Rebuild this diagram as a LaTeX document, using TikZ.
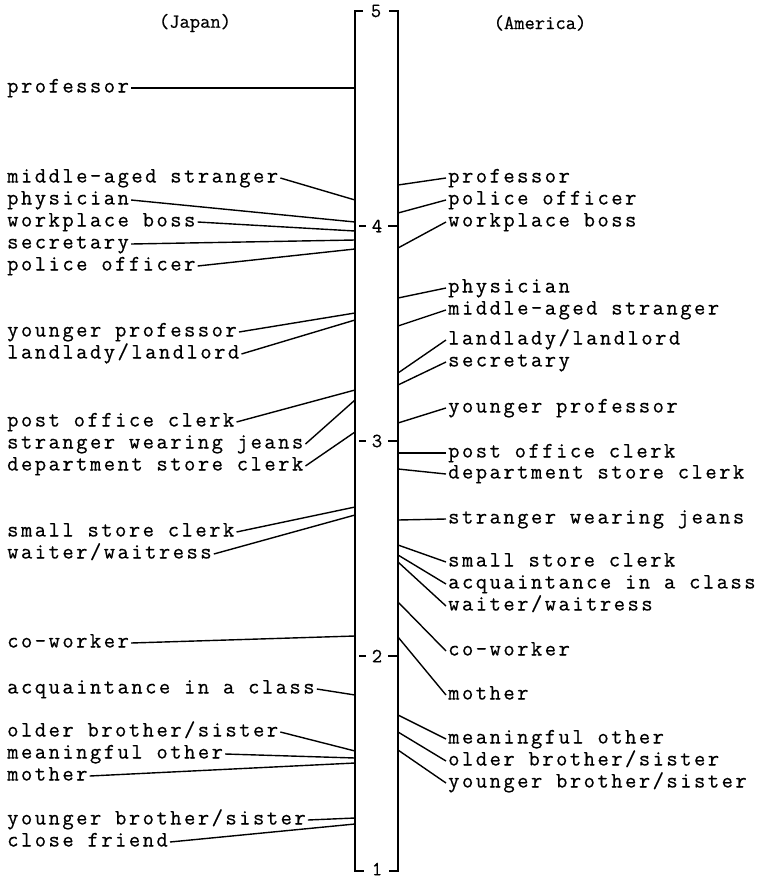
\documentclass[tikz,border=0pt]{standalone}
\usepackage{fontspec}
\usepackage{tikz}
\usetikzlibrary{positioning}
\newfontfamily\typew[LetterSpace=11.2,FakeBold=0.5]{Latin Modern Mono}
\newfontfamily\typeh[FakeBold=0.5]{Latin Modern Mono}

\tikzset{
  lbl/.style={font=\typew\fontsize{22}{22}\selectfont, inner xsep=2pt, inner ysep=0pt, text height=9pt, text depth=0pt},
  hdr/.style={font=\typeh\fontsize{20}{20}\selectfont, inner sep=0pt},
  num/.style={font=\typeh\fontsize{20}{20}\selectfont, inner sep=0pt},
  lead/.style={line width=1.4pt},
  axisline/.style={line width=2.2pt},
  tick/.style={line width=1.4pt}
}

\begin{document}
\begin{tikzpicture}[x=1pt,y=-1pt]
\useasboundingbox (0,0) rectangle (759,879);

% the scale
\draw[axisline] (363,11) -- (355,11) -- (355,871) -- (364,871);
\draw[axisline] (389,11) -- (398,11) -- (398,871) -- (389,871);
\node[num] (v5) at (376,11) {5};
\node[num] (v1) at (377,869) {1};
\foreach \v/\y in {4/226,3/441,2/656} {
  \node[num] (v\v) at (377,\y) {\v};
  \draw[tick] (359,\y) -- (366,\y);
  \draw[tick] (388,\y) -- (397,\y);
}

% headings
\node[hdr] (jp) at (195,23) {(Japan)};
\node[hdr] (us) at (540,23) {(America)};

% Japan
\foreach \n/\lab/\ty/\ay in {
  1/professor/88/88,
  2/middle-aged stranger/178/200,
  3/physician/200/222,
  4/workplace boss/222/231,
  5/secretary/244/240,
  6/police officer/266/249,
  7/younger professor/332/313,
  8/{landlady/landlord}/354/320,
  9/post office clerk/422/390,
  10/stranger wearing jeans/444/400,
  11/department store clerk/466/432,
  12/small store clerk/532/507,
  13/{waiter/waitress}/554/515,
  14/co-worker/643/636,
  15/acquaintance in a class/689/695,
  16/{older brother/sister}/732/751,
  17/meaningful other/754/758,
  18/mother/776/763,
  19/{younger brother/sister}/820/818,
  20/close friend/842/824} {
  \node[lbl,anchor=west] (jp\n) at (5,\ty) {\lab};
  \coordinate (jpa\n) at (355,\ay);
  \draw[lead] (jp\n.east) -- (jpa\n);
}

% America
\foreach \n/\lab/\ty/\ay in {
  1/professor/178/185,
  2/police officer/200/213,
  3/workplace boss/222/248,
  4/physician/288/298,
  5/middle-aged stranger/310/326,
  6/{landlady/landlord}/340/373,
  7/secretary/362/385,
  8/younger professor/408/423,
  9/post office clerk/453/453,
  10/department store clerk/474/469,
  11/stranger wearing jeans/519/520,
  12/small store clerk/562/545,
  13/acquaintance in a class/584/555,
  14/{waiter/waitress}/606/562,
  15/co-worker/651/602,
  16/mother/695/637,
  17/meaningful other/739/715,
  18/{older brother/sister}/761/732,
  19/{younger brother/sister}/783/750} {
  \node[lbl,anchor=west] (us\n) at (446,\ty) {\lab};
  \coordinate (usa\n) at (398,\ay);
  \draw[lead] (usa\n) -- (us\n.west);
}
\end{tikzpicture}
\end{document}
